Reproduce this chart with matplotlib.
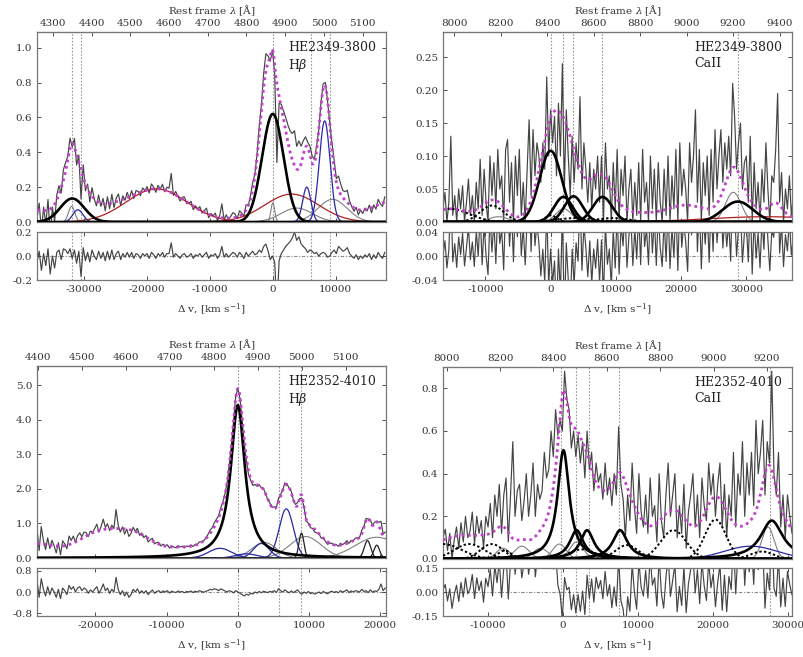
import numpy as np
import matplotlib
matplotlib.use('Agg')
import matplotlib.pyplot as plt

plt.rcParams['font.family'] = ['DejaVu Serif']
plt.rcParams['mathtext.fontset'] = 'dejavuserif'
plt.rcParams['axes.unicode_minus'] = False

C_KMS = 299792.458

# ---------------- Panel 1: HE2349-3800  Hbeta ----------------
tl_name = ["HE2349-3800", r"H$\beta$"]
tl_v0, tl_dv = -37500, 350
tl_resid = [
    -0.05, 0.04, -0.12, 0.02, -0.08, 0.06, -0.15, 0.0, -0.1, 0.03,
    0.05, -0.03, 0.06, 0.05, 0.02, 0.06, -0.02, 0.05, -0.06, 0.04,
    -0.17, 0.07, -0.04, 0.03, -0.05, 0.05, 0.0, -0.03, 0.04, -0.02,
    0.03, -0.04, 0.04, -0.03, 0.05, -0.03, 0.02, 0.04, -0.03, 0.02,
    -0.01, 0.03, -0.01, 0.03, -0.02, 0.02, 0.01, -0.02, 0.02, 0.0,
    0.02, -0.02, 0.03, 0.01, -0.02, 0.02, 0.0, 0.03, -0.01, 0.02,
    0.02, 0.11, -0.01, 0.02, 0.0, -0.02, 0.01, 0.02, -0.01, 0.0,
    0.02, -0.02, 0.01, 0.0, 0.02, -0.01, 0.01, 0.03, -0.02, 0.01,
    0.0, 0.02, -0.02, 0.01, 0.08, -0.01, 0.02, -0.01, 0.01, 0.03,
    0.02, -0.01, 0.03, 0.01, -0.02, 0.03, 0.0, 0.02, 0.04, 0.01,
    0.02, 0.05, 0.03, 0.08, 0.1, 0.04, -0.03, 0.0, -0.05, -0.45,
    -0.04, 0.02, 0.05, 0.08, 0.1, 0.12, 0.15, 0.2, 0.13, 0.16,
    0.1, 0.08, 0.06, 0.03, 0.05, 0.04, 0.02, 0.03, 0.0, 0.02,
    0.03, 0.02, -0.01, 0.0, 0.03, 0.05, 0.02, 0.08, 0.06, 0.04,
    0.05, 0.07, 0.02, 0.0, -0.02, 0.01, -0.03, 0.0, -0.02, 0.01,
    -0.01, 0.02, -0.03, 0.01, -0.02, 0.03, 0.0, -0.02, 0.03]
tl_broad = [(-31900, 0.135, 1900), (0, 0.62, 1700)]
tl_red = [(-18500, 0.19, 4800), (3000, 0.16, 4300)]
tl_blue = [(-31000, 0.07, 800), (5400, 0.20, 650), (8250, 0.58, 850)]
tl_thin = [(-32000, 0.09, 500), (0, 0.11, 300), (3800, 0.08, 2500), (9500, 0.13, 2300)]
tl_other = [(-32300, 0.14, 1200), (-29800, 0.08, 1800), (-39000, 0.075, 3500),
            (-26000, 0.04, 2500), (19000, 0.12, 3500), (-1200, 0.25, 900)]
tl_lines = [-31950, -30480, 0, 6140, 9050]

# ---------------- Panel 2: HE2349-3800  CaII ----------------
tr_name = ["HE2349-3800", "CaII"]
tr_v0, tr_dv = -16500, 300
tr_flux = [
    0.02, 0.045, 0.0, 0.03, 0.13, 0.01, 0.04, 0.0, 0.05, 0.02,
    0.055, 0.0, 0.03, 0.065, 0.01, 0.04, 0.0, 0.06, 0.02, 0.095,
    0.01, 0.08, 0.03, 0.0, 0.1, 0.04, 0.09, 0.02, 0.11, 0.05,
    0.07, 0.0, 0.11, 0.125, 0.03, 0.09, 0.0, 0.1, 0.04, 0.11,
    0.01, 0.06, 0.0, 0.08, 0.155, 0.04, 0.14, 0.07, 0.12, 0.1,
    0.06, 0.12, 0.08, 0.22, 0.1, 0.17, 0.12, 0.16, 0.07, 0.18,
    0.1, 0.24, 0.05, 0.17, 0.1, 0.04, 0.13, 0.06, 0.12, 0.08,
    0.19, 0.05, 0.12, 0.08, 0.03, 0.09, 0.02, 0.08, 0.05, 0.1,
    0.03, 0.1, 0.0, 0.12, 0.05, 0.07, 0.0, 0.09, 0.02, 0.11,
    0.0, 0.08, 0.04, 0.1, 0.0, 0.05, 0.08, 0.0, 0.06, 0.01,
    0.09, 0.0, 0.11, 0.03, 0.06, 0.0, 0.1, 0.02, 0.08, 0.0,
    0.09, 0.03, 0.0, 0.08, 0.01, 0.1, 0.0, 0.07, 0.02, 0.11,
    0.0, 0.12, 0.04, 0.08, 0.05, 0.0, 0.12, 0.06, 0.1, 0.17,
    0.03, 0.11, 0.0, 0.09, 0.04, 0.1, 0.01, 0.11, 0.03, 0.14,
    0.05, 0.1, 0.14, 0.06, 0.12, 0.08, 0.13, 0.07, 0.21, 0.16,
    0.08, 0.12, 0.15, 0.05, 0.09, 0.1, 0.03, 0.13, 0.0, 0.09,
    0.02, 0.06, 0.0, 0.08, 0.03, 0.12, 0.05, 0.0, 0.07, 0.06,
    0.11, 0.195, 0.03, 0.075, 0.0, 0.05, 0.02, 0.07, 0.01, 0.04]
tr_broad = [(0, 0.108, 1700), (1950, 0.038, 1400), (3500, 0.039, 1400),
            (7950, 0.038, 1500), (28700, 0.031, 2300)]
tr_red = [(33000, 0.008, 9000)]
tr_thin = [(-8000, 0.008, 1500), (2000, 0.02, 1200), (28000, 0.045, 1200)]
tr_feii = [(-15500, 0.02, 3000), (-9000, 0.025, 1800),
           (0, 0.01, 900), (4000, 0.006, 3000), (9500, 0.006, 2500)]
tr_other = [(-500, 0.015, 2500), (6000, 0.028, 2500), (15000, 0.012, 6000),
            (21000, 0.015, 2500), (34500, 0.02, 1000)]
tr_lines = [0, 1950, 3500, 7950, 28700]

# ---------------- Panel 3: HE2352-4010  Hbeta ----------------
bl_name = ["HE2352-4010", r"H$\beta$"]
bl_v0, bl_dv = -28200, 300
bl_resid = [
    0.45, -0.2, 0.5, 0.1, -0.15, 0.2, -0.1, 0.15, 0.0, -0.2,
    0.1, -0.25, 0.15, 0.05, -0.1, 0.25, 0.1, 0.2, 0.0, 0.15,
    0.2, 0.05, 0.15, 0.1, -0.05, 0.08, 0.0, 0.1, 0.2, -0.05,
    0.1, 0.3, 0.05, 0.15, -0.05, 0.1, 0.0, 0.55, 0.1, -0.1,
    0.05, -0.15, 0.0, -0.2, -0.1, 0.1, 0.0, 0.12, -0.05, 0.05,
    -0.05, 0.05, -0.1, 0.0, 0.08, -0.05, 0.02, 0.05, -0.03, 0.04,
    0.0, 0.05, -0.04, 0.03, 0.0, -0.02, 0.04, 0.0, 0.02, -0.03,
    0.02, 0.0, 0.04, -0.02, 0.03, 0.0, 0.05, 0.02, -0.01, 0.03,
    0.05, 0.1, 0.08, 0.12, 0.1, 0.05, 0.12, 0.08, 0.04, 0.0,
    0.05, 0.02, -0.03, 0.05, 0.0, -0.05, -0.1, -0.15, -0.08, -0.12,
    -0.05, -0.08, 0.0, -0.04, 0.02, -0.03, 0.03, 0.0, -0.02, 0.02,
    0.0, 0.05, -0.02, 0.12, 0.05, 0.0, 0.08, 0.02, -0.03, 0.04,
    -0.02, 0.03, 0.08, -0.03, -0.08, 0.0, -0.05, 0.02, -0.06, -0.03,
    -0.08, -0.04, 0.0, -0.06, 0.02, -0.03, -0.07, 0.0, 0.03, -0.02,
    0.02, -0.03, 0.05, 0.0, 0.03, 0.08, -0.02, 0.04, 0.0, 0.05,
    0.03, 0.0, 0.1, 0.02, 0.05, -0.02, 0.08, 0.0, 0.04, 0.02,
    0.1, 0.3, 0.05, 0.15]
bl_broad = [(0, 4.42, 1200)]
bl_blue = [(-2500, 0.28, 1600), (1200, 0.12, 1500), (3300, 0.42, 1100), (6800, 1.42, 1000)]
bl_thin = [(3700, 0.45, 1700), (9500, 0.62, 2200), (19500, 0.6, 3000)]
bl_narrow = [(8930, 0.72, 350), (18200, 0.5, 450), (19500, 0.37, 400)]
bl_other = [(-28500, 0.4, 3000), (-19500, 0.7, 3000), (-14500, 0.55, 2500),
            (-8000, 0.2, 3000), (500, 0.25, 2500), (3600, 0.5, 1300),
            (7600, 0.15, 1500), (10000, 0.2, 1500), (15000, 0.15, 3000)]
bl_lines = [0, 5800, 8930]

# ---------------- Panel 4: HE2352-4010  CaII ----------------
br_name = ["HE2352-4010", "CaII"]
br_v0, br_dv = -16000, 300
br_flux = [
    0.1, 0.14, 0.04, 0.12, 0.0, 0.09, 0.15, 0.05, 0.17, 0.08,
    0.2, 0.1, 0.13, 0.22, 0.07, 0.2, 0.12, 0.18, 0.05, 0.2,
    0.15, 0.26, 0.1, 0.3, 0.2, 0.35, 0.12, 0.3, 0.38, 0.08,
    0.3, 0.55, 0.2, 0.32, 0.35, 0.18, 0.27, 0.4, 0.2, 0.3,
    0.45, 0.2, 0.35, 0.28, 0.32, 0.5, 0.38, 0.42, 0.6, 0.48,
    0.7, 0.58, 0.65, 0.6, 0.88, 0.75, 0.7, 0.52, 0.6, 0.48,
    0.58, 0.45, 0.55, 0.38, 0.6, 0.42, 0.5, 0.32, 0.45, 0.36,
    0.4, 0.28, 0.45, 0.3, 0.38, 0.25, 0.4, 0.3, 0.62, 0.35,
    0.28, 0.1, 0.3, 0.18, 0.45, 0.25, 0.12, 0.4, 0.22, 0.15,
    0.3, 0.12, 0.38, 0.2, 0.25, 0.08, 0.4, 0.18, 0.1, 0.3,
    0.45, 0.2, 0.3, 0.4, 0.1, 0.25, 0.12, 0.35, 0.05, 0.22,
    0.3, 0.4, 0.15, 0.3, 0.1, 0.38, 0.25, 0.18, 0.45, 0.3,
    0.4, 0.2, 0.35, 0.45, 0.15, 0.35, 0.1, 0.3, 0.2, 0.5,
    0.15, 0.4, 0.3, 0.55, 0.2, 0.45, 0.3, 0.5, 0.25, 0.65,
    0.4, 0.5, 0.65, 0.3, 0.55, 0.45, 0.88, 0.4, 0.3, 0.5,
    0.15, 0.3, 0.1, 0.3, 0.2, 0.12]
br_broad = [(50, 0.51, 950), (1800, 0.135, 1100), (3200, 0.135, 1100),
            (7600, 0.135, 1200), (27800, 0.18, 1800)]
br_blue = [(25000, 0.06, 3500)]
br_thin = [(-8000, 0.05, 900), (-5500, 0.06, 1000), (-3000, 0.05, 1000),
           (-500, 0.07, 900), (1800, 0.08, 900), (27300, 0.15, 800)]
br_feii = [(-16000, 0.07, 2500), (-12500, 0.07, 2000), (-9500, 0.07, 1500), (-7800, 0.04, 900),
           (2500, 0.045, 1800), (8500, 0.065, 1500), (14700, 0.135, 1700),
           (20300, 0.185, 1400), (26500, 0.035, 1500)]
br_other = [(500, 0.08, 1800), (5500, 0.18, 3300), (16000, 0.08, 8000), (30000, 0.05, 1500)]
br_lines = [-250, 1700, 3400, 7500, 27600]


def gauss(v, c, a, w):
    return a * np.exp(-0.5 * ((v - c) / w) ** 2)


def lorentz(v, c, a, w):
    return a / (1.0 + ((v - c) / w) ** 2)


STYLE = {
    'other': None,
    'feii': dict(color='black', lw=1.4, ls=(0, (1.2, 1.2)), zorder=3),
    'thin': dict(color='#808080', lw=0.8, zorder=2),
    'red': dict(color='#b02020', lw=0.9, zorder=2),
    'blue': dict(color='#2828a8', lw=0.9, zorder=2),
    'narrow': dict(color='#202020', lw=0.9, zorder=2),
    'broad': dict(color='black', lw=1.9, zorder=4),
}


def panel(fig, rect_m, rect_r, p):
    axm = fig.add_axes(rect_m)
    axr = fig.add_axes(rect_r)
    xlim = p['xlim']
    vf = np.linspace(xlim[0], xlim[1], 2000)
    groups = p['groups']
    kinds = {k: gauss for k in groups}
    if p.get('broad_lorentz'):
        kinds['broad'] = lorentz

    def total(v):
        t = np.zeros_like(v, dtype=float)
        for k, comps in groups.items():
            for c, a, w in comps:
                t += kinds[k](v, c, a, w)
        return t

    vd = p['v0'] + p['dv'] * np.arange(len(p['vals']))
    vals = np.array(p['vals'], dtype=float)
    if p['mode'] == 'resid':
        resid = vals
        flux = total(vd) + resid
    else:
        flux = vals
        resid = flux - total(vd)

    for x in p['lines']:
        axm.axvline(x, color='#999999', lw=0.8, ls=(0, (1.5, 1.5)), zorder=0)
        axr.axvline(x, color='#999999', lw=0.8, ls=(0, (1.5, 1.5)), zorder=0)

    axm.plot(vd, flux, color='#444444', lw=0.85, zorder=1)
    for k in ['other', 'thin', 'red', 'blue', 'narrow', 'feii', 'broad']:
        st = STYLE[k]
        if st is None or k not in groups:
            continue
        for c, a, w in groups[k]:
            axm.plot(vf, kinds[k](vf, c, a, w), **st)
    axm.plot(vf, total(vf), color='#c040c8', lw=2.0, ls=(0, (1, 1.3)), zorder=5)

    axm.set_xlim(*xlim)
    axm.set_ylim(*p['ylim'])
    axm.set_yticks(p['yticks'])
    axm.set_yticklabels([p['yfmt'] % t for t in p['yticks']])
    axm.set_xticks(p['xticks'])
    axm.tick_params(axis='x', labelbottom=False)
    axm.tick_params(direction='in', right=True, top=False, labelsize=7.5,
                    colors='#333333', length=3, width=0.6)
    axm.text(0.72, 0.955, "\n".join(p['name']), transform=axm.transAxes,
             ha='left', va='top', fontsize=9, color='#222222', linespacing=1.3)

    lam0 = p['lam0']
    sec = axm.secondary_xaxis('top', functions=(lambda v: lam0 * (1 + v / C_KMS),
                                                lambda l: (l / lam0 - 1) * C_KMS))
    sec.set_xticks(p['lticks'])
    sec.tick_params(direction='in', labelsize=7.5, colors='#333333', length=3, width=0.6, pad=3)
    sec.set_xlabel(r"Rest frame $\lambda$ [$\mathrm{\AA}$]", fontsize=7.5, color='#333333', labelpad=3)

    axr.plot(vd, resid, color='#444444', lw=0.85, zorder=2)
    axr.axhline(0, color='#888888', lw=0.8, ls=(0, (3, 1.5, 1, 1.5)), zorder=1)
    axr.set_xlim(*xlim)
    axr.set_ylim(*p['rylim'])
    axr.set_yticks(p['ryticks'])
    axr.set_yticklabels([p['ryfmt'] % t for t in p['ryticks']])
    axr.set_xticks(p['xticks'])
    axr.set_xticklabels(['%d' % t for t in p['xticks']])
    axr.tick_params(direction='in', right=True, top=True, labelsize=7.5,
                    colors='#333333', length=3, width=0.6)
    axr.set_xlabel(r"$\Delta$ v, [km s$^{-1}$]", fontsize=7.5, color='#333333', labelpad=6)

    for ax in (axm, axr):
        for s in ax.spines.values():
            s.set_color('#777777')
            s.set_linewidth(0.9)
    sec.spines['top'].set_color('#777777')


fig = plt.figure(figsize=(8.04, 6.57), dpi=100)

panels = [
    dict(name=tl_name, v0=tl_v0, dv=tl_dv, vals=tl_resid, mode='resid',
         groups=dict(broad=tl_broad, red=tl_red, blue=tl_blue, thin=tl_thin, other=tl_other),
         lines=tl_lines, xlim=(-37500, 18000), ylim=(0, 1.09), yticks=[0, 0.2, 0.4, 0.6, 0.8, 1.0],
         yfmt='%.1f', rylim=(-0.2, 0.2), ryticks=[-0.2, 0.0, 0.2], ryfmt='%.1f',
         xticks=[-30000, -20000, -10000, 0, 10000], lam0=4868.0,
         lticks=[4300, 4400, 4500, 4600, 4700, 4800, 4900, 5000, 5100]),
    dict(name=tr_name, v0=tr_v0, dv=tr_dv, vals=tr_flux, mode='flux',
         groups=dict(broad=tr_broad, red=tr_red, thin=tr_thin, feii=tr_feii, other=tr_other),
         lines=tr_lines, xlim=(-16500, 37000), ylim=(0, 0.288), yticks=[0, 0.05, 0.10, 0.15, 0.20, 0.25],
         yfmt='%.2f', rylim=(-0.04, 0.04), ryticks=[-0.04, 0.0, 0.04], ryfmt='%.2f',
         xticks=[-10000, 0, 10000, 20000, 30000], lam0=8415.0,
         lticks=[8000, 8200, 8400, 8600, 8800, 9000, 9200, 9400]),
    dict(name=bl_name, v0=bl_v0, dv=bl_dv, vals=bl_resid, mode='resid', broad_lorentz=True,
         groups=dict(broad=bl_broad, blue=bl_blue, thin=bl_thin, narrow=bl_narrow, other=bl_other),
         lines=bl_lines, xlim=(-28200, 20800), ylim=(0, 5.55), yticks=[0, 1, 2, 3, 4, 5],
         yfmt='%.1f', rylim=(-0.9, 0.9), ryticks=[-0.8, 0.0, 0.8], ryfmt='%.1f',
         xticks=[-20000, -10000, 0, 10000, 20000], lam0=4855.0,
         lticks=[4400, 4500, 4600, 4700, 4800, 4900, 5000, 5100, 5200]),
    dict(name=br_name, v0=br_v0, dv=br_dv, vals=br_flux, mode='flux', broad_lorentz=True,
         groups=dict(broad=br_broad, blue=br_blue, thin=br_thin, feii=br_feii, other=br_other),
         lines=br_lines, xlim=(-16000, 30500), ylim=(0, 0.9), yticks=[0, 0.2, 0.4, 0.6, 0.8],
         yfmt='%.1f', rylim=(-0.15, 0.15), ryticks=[-0.15, 0.0, 0.15], ryfmt='%.2f',
         xticks=[-10000, 0, 10000, 20000, 30000], lam0=8436.0,
         lticks=[8000, 8200, 8400, 8600, 8800, 9000, 9200]),
]

W = 349 / 804.0
rects = [
    ((37 / 804, 1 - 222 / 657, W, 190 / 657), (37 / 804, 1 - 280 / 657, W, 48 / 657)),
    ((443 / 804, 1 - 222 / 657, W, 190 / 657), (443 / 804, 1 - 280 / 657, W, 48 / 657)),
    ((37 / 804, 1 - 558 / 657, W, 192 / 657), (37 / 804, 1 - 616 / 657, W, 48 / 657)),
    ((443 / 804, 1 - 559 / 657, W, 192 / 657), (443 / 804, 1 - 616 / 657, W, 48 / 657)),
]
for (rm, rr), p in zip(rects, panels):
    panel(fig, rm, rr, p)

fig.savefig('out.png', dpi=100)
